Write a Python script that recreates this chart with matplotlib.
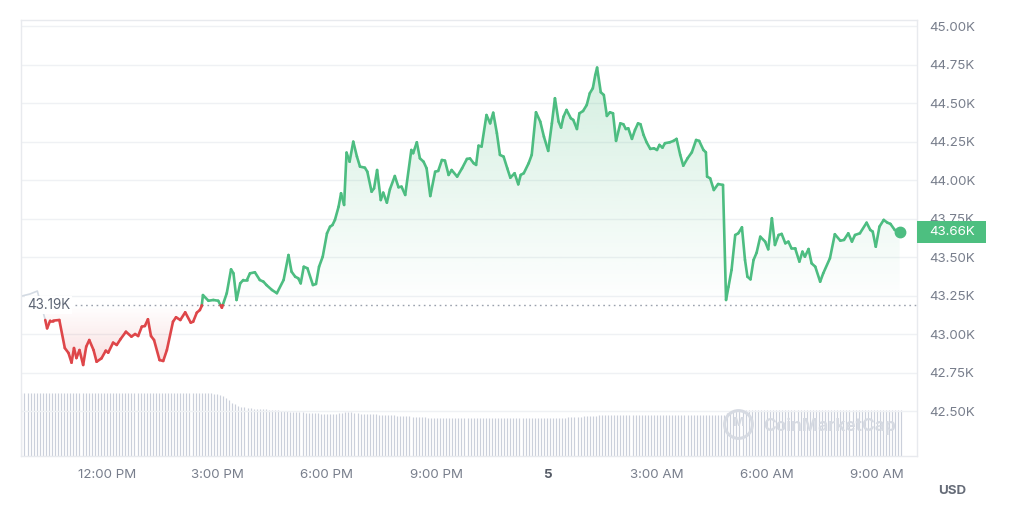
import numpy as np
import matplotlib
matplotlib.use("Agg")
import matplotlib.pyplot as plt
from matplotlib.collections import LineCollection
from matplotlib.path import Path
from matplotlib.patches import Rectangle
import matplotlib.transforms as mtransforms

plt.rcParams['font.family'] = ['Inter', 'DejaVu Sans']

# ---------------- data ----------------
start_hour = 9 + 40 / 60.0          # window starts 9:40 AM (day 4)
baseline_price = 43190              # 24h open
last_price = 43664

price_minutes = [
    1, 14, 26, 39, 42, 47, 52, 62, 71, 77, 82, 86, 90, 95, 101, 106, 111, 118, 123, 131,
    138, 142, 150, 156, 162, 171, 180, 186, 191, 197, 202, 207, 212, 217, 226, 232, 238, 248, 253, 260,
    268, 277, 281, 287, 292, 295, 297, 306, 314, 322, 328, 336, 343, 347, 352, 358, 363, 369, 374, 382,
    390, 396, 401, 410, 418, 429, 437, 442, 448, 453, 457, 462, 468, 477, 482, 487, 493, 500, 505, 509,
    513, 519, 523, 528, 532, 537, 543, 549, 554, 562, 566, 573, 577, 582, 588, 592, 598, 603, 611, 617,
    622, 628, 638, 641, 647, 652, 658, 663, 669, 677, 682, 688, 693, 699, 704, 713, 721, 729, 734, 740,
    744, 748, 753, 761, 767, 772, 778, 783, 789, 795, 800, 807, 813, 817, 822, 830, 835, 842, 849, 855,
    862, 868, 873, 879, 883, 887, 892, 899, 903, 909, 913, 919, 925, 930, 935, 939, 942, 948, 953, 958,
    963, 968, 973, 980, 985, 989, 993, 999, 1004, 1009, 1013, 1018, 1023, 1029, 1035, 1040, 1044, 1049, 1053, 1061,
    1067, 1072, 1078, 1083, 1090, 1097, 1104, 1109, 1116, 1120, 1122, 1127, 1133, 1140, 1148, 1153, 1157, 1162, 1168, 1173,
    1179, 1184, 1188, 1193, 1198, 1203, 1209, 1217, 1222, 1228, 1233, 1239, 1244, 1250, 1255, 1260, 1266, 1273, 1278, 1282,
    1288, 1293, 1299, 1307, 1312, 1323, 1331, 1340, 1346, 1353, 1359, 1364, 1372, 1383, 1389, 1393, 1398, 1404, 1411, 1417,
    1422, 1429, 1437,
]
prices = [
    43250, 43263, 43282, 43094, 43040, 43090, 43090, 43094, 42912, 42880, 42817, 42912, 42847, 42899, 42802, 42921, 42964, 42899, 42823, 42845,
    42895, 42882, 42947, 42932, 42969, 43018, 42986, 43003, 42990, 43051, 43055, 43099, 42990, 42964, 42834, 42828, 42899, 43083, 43112, 43094,
    43144, 43077, 43083, 43142, 43159, 43185, 43256, 43219, 43224, 43219, 43174, 43268, 43423, 43397, 43224, 43332, 43354, 43354, 43397, 43404,
    43354, 43343, 43321, 43289, 43268, 43354, 43516, 43408, 43375, 43365, 43332, 43440, 43430, 43321, 43328, 43440, 43505, 43657, 43700, 43711,
    43744, 43830, 43917, 43841, 44181, 44122, 44252, 44155, 44090, 44083, 44057, 43927, 43949, 44068, 43873, 43921, 43856, 43943, 44029, 43956,
    43960, 43906, 44198, 44177, 44248, 44144, 44122, 44079, 43899, 44057, 44062, 44133, 44129, 44036, 44068, 44025, 44079, 44140, 44143, 44112,
    44101, 44226, 44220, 44425, 44371, 44440, 44307, 44166, 44155, 44079, 44018, 44047, 43975, 44036, 44047, 44112, 44166, 44443, 44382, 44284,
    44192, 44371, 44534, 44382, 44343, 44414, 44458, 44404, 44393, 44334, 44436, 44451, 44490, 44566, 44599, 44685, 44733, 44573, 44555, 44419,
    44443, 44436, 44257, 44371, 44365, 44334, 44339, 44270, 44328, 44371, 44365, 44296, 44248, 44205, 44209, 44198, 44231, 44213, 44242, 44248,
    44257, 44270, 44166, 44096, 44144, 44183, 44263, 44257, 44198, 44183, 44025, 44014, 43938, 43977, 43971, 43224, 43310, 43419, 43646, 43657,
    43696, 43484, 43375, 43358, 43484, 43531, 43635, 43603, 43553, 43755, 43581, 43646, 43653, 43592, 43603, 43560, 43560, 43473, 43538, 43505,
    43555, 43462, 43440, 43343, 43397, 43495, 43651, 43609, 43614, 43657, 43603, 43646, 43657, 43726, 43679, 43668, 43570, 43700, 43744, 43726,
    43718, 43679, 43664,
]

# 24h rolling volume (billions USD), one bar every 5 minutes
volume_24h_b = [
    31.0, 31.0, 31.0, 31.0, 31.0, 31.0, 31.0, 31.0, 31.0, 31.0, 31.0, 31.0, 31.0, 31.0, 31.0, 31.0, 31.0, 31.0, 31.0, 31.0,
    31.0, 31.0, 31.0, 31.0, 31.0, 31.0, 31.0, 31.0, 31.0, 31.0, 31.0, 31.0, 31.0, 31.0, 31.0, 31.0, 31.0, 31.0, 31.0, 31.0,
    31.0, 31.0, 31.0, 31.0, 31.0, 31.0, 31.0, 31.0, 31.0, 31.0,
    31.2, 31.2, 31.2, 31.2, 31.2, 31.2, 31.2, 31.2, 31.2, 31.2, 31.2, 31.2, 31.2,
    30.8, 30.4, 30.0, 29.6, 28.6, 27.4, 26.3, 25.4, 24.7, 24.3, 24.0, 23.8, 23.6, 23.4,
    23.3, 23.2, 23.1, 23.0, 22.9, 22.8, 22.6, 22.5, 22.3, 22.2, 22.0, 21.9,
    21.8, 21.7, 21.6, 21.5, 21.4, 21.3, 21.2, 21.1, 21.0, 20.9, 20.8, 20.8, 20.7, 20.7,
    20.9, 21.2, 21.4, 21.6, 21.6, 21.5, 21.3, 21.0,
    20.8, 20.7, 20.6, 20.6, 20.5, 20.5, 20.4, 20.4,
    20.3, 20.2, 20.1, 20.0, 19.9, 19.8, 19.7, 19.6, 19.5, 19.4,
    19.3, 19.2, 19.1, 19.0, 18.9, 18.9, 18.8, 18.8, 18.7, 18.7,
    18.6, 18.6, 18.6, 18.6, 18.6, 18.6, 18.6, 18.6, 18.6, 18.6, 18.6, 18.6, 18.6, 18.6, 18.6, 18.6, 18.6, 18.6, 18.6, 18.6,
    18.6, 18.6, 18.6, 18.6, 18.6, 18.6, 18.6, 18.6, 18.6, 18.6, 18.6, 18.6, 18.6, 18.6, 18.6, 18.6, 18.6,
    18.7, 18.8, 18.9, 19.0, 19.1, 19.2, 19.3, 19.4, 19.5, 19.6, 19.7,
    19.8, 19.9, 20.0, 20.0,
    20.1, 20.1, 20.1, 20.1, 20.1, 20.1, 20.1, 20.1, 20.1, 20.1,
    20.2, 20.2, 20.2, 20.2, 20.2, 20.2, 20.2, 20.2, 20.2, 20.2, 20.2, 20.2, 20.2, 20.2, 20.2,
    20.2, 20.2, 20.2, 20.2, 20.2, 20.2, 20.2, 20.2, 20.2, 20.2, 20.2, 20.2, 20.2, 20.2, 20.2,
    21.0, 21.8, 22.3, 22.5, 22.7, 22.8,
    22.9, 22.9, 22.9, 22.9, 22.9, 22.9, 22.9, 22.9, 22.9, 22.9, 22.9, 22.9, 22.9, 22.9, 22.9, 22.9, 22.9, 22.9, 22.9, 22.9,
    22.9, 22.9, 22.9, 22.9, 22.9, 22.9, 22.9, 22.9, 22.9, 22.9, 22.9, 22.9, 22.9, 22.9, 22.9, 22.9, 22.9, 22.9, 22.9, 22.9,
    22.9, 22.9, 22.9, 22.9, 22.9, 22.9, 22.9, 22.9, 22.9, 22.9, 22.9, 22.9,
]
volume_step_min = 5

x_tick_hours = [12, 15, 18, 21, 24, 27, 30, 33]
x_tick_labels = ["12:00 PM", "3:00 PM", "6:00 PM", "9:00 PM", "5", "3:00 AM", "6:00 AM", "9:00 AM"]
y_ticks = [42500, 42750, 43000, 43250, 43500, 43750, 44000, 44250, 44500, 44750, 45000]
y_tick_labels = ["42.50K", "42.75K", "43.00K", "43.25K", "43.50K", "43.75K", "44.00K", "44.25K", "44.50K", "44.75K", "45.00K"]

# ---------------- styling ----------------
GREEN = "#4dbd81"
RED = "#de4649"
FAINT = "#d3dae3"
GRID = "#eff1f4"
FRAME = "#e8eaee"
TICK = "#787e8c"
VOL = "#cbd0db"

t = start_hour + np.array(price_minutes) / 60.0
p = np.array(prices, dtype=float)
t_vol = start_hour + np.arange(len(volume_24h_b)) * volume_step_min / 60.0

W, H = 1024, 523
fig = plt.figure(figsize=(W / 100, H / 100), dpi=100)
fig.patch.set_facecolor("white")
L, R, T, B = 21, 917, 20, 456
ax = fig.add_axes([L / W, (H - B) / H, (R - L) / W, (B - T) / H])
ax2 = ax.twinx()
ax.set_zorder(ax2.get_zorder() + 1)
ax.patch.set_visible(False)

XMIN, XMAX = 9.655, 34.091
YMIN, YMAX = 42211, 45042

# volume bars
ax2.vlines(t_vol, 0, volume_24h_b, colors=VOL, linewidth=0.85)
ax2.set_ylim(0, 215)
ax2.set_yticks([])
for s in ax2.spines.values():
    s.set_visible(False)

# gridlines
for yv in y_ticks:
    ax.axhline(yv, color=GRID, lw=1.0, zorder=0.5)

# gradient fills
def gradient_fill(tt, pp, base, above, color, far_val, alpha_max):
    where = pp >= base if above else pp <= base
    coll = ax.fill_between(tt, pp, base, where=where, interpolate=True,
                           facecolor="none", edgecolor="none")
    paths = coll.get_paths()
    coll.remove()
    if not paths:
        return
    path = Path.make_compound_path(*paths)
    rgb = matplotlib.colors.to_rgb(color)
    n = 256
    img = np.zeros((n, 1, 4))
    img[..., 0], img[..., 1], img[..., 2] = rgb
    if above:
        img[:, 0, 3] = np.linspace(0.0, alpha_max, n)
        ext = [tt[0], tt[-1], base, far_val]
    else:
        img[:, 0, 3] = np.linspace(alpha_max, 0.0, n)
        ext = [tt[0], tt[-1], far_val, base]
    im = ax.imshow(img, extent=ext, origin="lower", aspect="auto",
                   interpolation="bilinear", zorder=1)
    im.set_clip_path(path, transform=ax.transData)

gradient_fill(t[3:], p[3:], baseline_price, True, GREEN, 44900, 0.27)
gradient_fill(t[3:], p[3:], baseline_price, False, RED, 42750, 0.20)

# line split by baseline
segs_g, segs_r = [], []
for i in range(3, len(t) - 1):
    t0, p0, t1, p1 = t[i], p[i], t[i + 1], p[i + 1]
    if (p0 - baseline_price) * (p1 - baseline_price) < 0:
        tc = t0 + (baseline_price - p0) / (p1 - p0) * (t1 - t0)
        a = [(t0, p0), (tc, baseline_price)]
        b = [(tc, baseline_price), (t1, p1)]
        (segs_g if p0 > baseline_price else segs_r).append(a)
        (segs_g if p1 > baseline_price else segs_r).append(b)
    else:
        (segs_g if (p0 + p1) / 2 >= baseline_price else segs_r).append([(t0, p0), (t1, p1)])
ax.add_collection(LineCollection(segs_g, colors=GREEN, linewidths=1.9,
                                 capstyle="round", joinstyle="round", zorder=3))
ax.add_collection(LineCollection(segs_r, colors=RED, linewidths=1.9,
                                 capstyle="round", joinstyle="round", zorder=3))
ax.plot(t[:4], p[:4], color=FAINT, lw=1.2, zorder=2.5)
ax.plot([t[-1]], [p[-1]], "o", color=GREEN, markersize=7.5, zorder=4)

# baseline dotted line + label
ax.axhline(baseline_price, xmin=(75 - L) / (R - L), xmax=1.0, color="#9aa1ad",
           lw=1.0, linestyle=(0, (1.2, 2.6)), zorder=2)
trans_b = mtransforms.blended_transform_factory(ax.transAxes, ax.transData)
ax.text((27 - L) / (R - L), baseline_price, "43.19K", transform=trans_b,
        ha="left", va="center", fontsize=9.7, color="#5d6574", zorder=5,
        bbox=dict(boxstyle="square,pad=0.15", facecolor="white", edgecolor="none"))

ax.set_xlim(XMIN, XMAX)
ax.set_ylim(YMIN, YMAX)

# axes styling
for s in ax.spines.values():
    s.set_color(FRAME)
    s.set_linewidth(1.0)
    s.set_zorder(6)
ax.yaxis.tick_right()
ax.set_yticks(y_ticks)
ax.set_yticklabels(y_tick_labels)
ax.tick_params(axis="y", length=0, pad=8.6, labelsize=9.6, labelcolor=TICK)
ax.set_xticks(x_tick_hours)
ax.set_xticklabels(x_tick_labels)
ax.tick_params(axis="x", length=0, pad=9.5, labelsize=9.6, labelcolor=TICK)
for lab in ax.get_xticklabels():
    if lab.get_text() == "5":
        lab.set_fontweight("bold")
        lab.set_color("#555b66")

# current price tag
box_h = 22 * (YMAX - YMIN) / (B - T)
rect = Rectangle((1.0, last_price - box_h / 2), 69 / (R - L), box_h, transform=trans_b,
                 facecolor="#4dbf80", edgecolor="none", clip_on=False, zorder=7)
ax.add_patch(rect)
ax.text(1.0 + 35 / (R - L), last_price, "43.66K", transform=trans_b, ha="center",
        va="center", fontsize=9.6, color="white", zorder=8, clip_on=False)

# USD label
fig.text(952 / W, 1 - 490.5 / H, "USD", ha="center", va="center", fontsize=9.6,
         fontweight="bold", color="#666c78")

# watermark
ax.plot([(738 - L) / (R - L)], [(B - 423.5) / (B - T)], "o", transform=ax.transAxes,
        markersize=20, markerfacecolor="none", markeredgecolor="#d6dae2", markeredgewidth=2.2,
        zorder=4, clip_on=False)
ax.text((738 - L) / (R - L), (B - 423.5) / (B - T), "M", transform=ax.transAxes,
        ha="center", va="center", fontsize=9, fontweight="bold", color="#d6dae2", zorder=4)
ax.text((763 - L) / (R - L), (B - 426.5) / (B - T), "CoinMarketCap", transform=ax.transAxes,
        ha="left", va="center", fontsize=12.5, fontweight="bold", color="#d6dae2", zorder=4)

fig.savefig("out.png", dpi=100, facecolor="white")
